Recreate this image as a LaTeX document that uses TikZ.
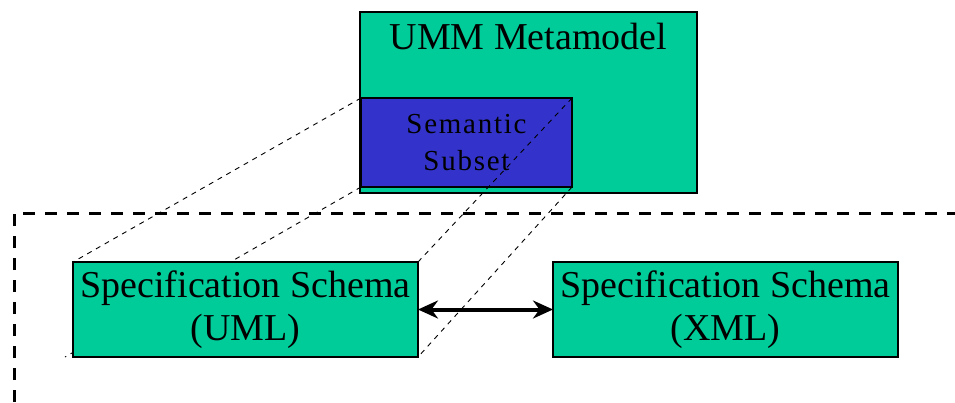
\documentclass[tikz,border=0pt]{standalone}
\usepackage{fontspec}
\setmainfont{Liberation Serif}
\usetikzlibrary{arrows.meta,positioning}

\definecolor{ummgreen}{RGB}{0,204,153}
\definecolor{ummblue}{RGB}{51,51,204}

\begin{document}
\begin{tikzpicture}
    [x=1pt,y=-1pt,>={Stealth[length=20pt,width=18pt]},
    box/.style={draw,fill=ummgreen,line width=1.2pt,anchor=north west,inner sep=0pt,outer sep=0pt,
        align=center,font=\fontsize{38}{43}\selectfont},
    subset/.style={box,fill=ummblue,font=\fontsize{29}{37}\selectfont\addfontfeatures{LetterSpace=6}},
    proj/.style={line width=0.9pt,dash pattern=on 5pt off 5pt},
    frame/.style={line width=3pt,dash pattern=on 12pt off 10pt}]

    \useasboundingbox (0,0) rectangle (955,402);

    \node[box,minimum width=337pt,minimum height=181pt] (umm) at (360,12) {};
    \node[font=\fontsize{38}{43}\selectfont,below=8pt of umm.north] (ummtitle) {UMM Metamodel};
    \node[subset,minimum width=211pt,minimum height=89pt] (sem) at (361,98) {Semantic\\Subset};

    % projection of the subset onto the UML schema
    \draw[proj] (sem.north west) -- (73,262);
    \draw[proj] (sem.south west) -- (65,357);
    \draw[proj] (sem.north east) -- (418,262);
    \draw[proj] (sem.south east) -- (418,357);

    \draw[frame] (14,402) -- (14,213) -- (955,213);

    \node[box,minimum width=345pt,minimum height=95pt] (uml) at (73,262) {Specification Schema\\(UML)};
    \node[box,minimum width=345pt,minimum height=95pt] (xml) at (553,262) {Specification Schema\\(XML)};

    \draw[<->,line width=4pt] (uml.east) -- (xml.west);

\end{tikzpicture}
\end{document}
